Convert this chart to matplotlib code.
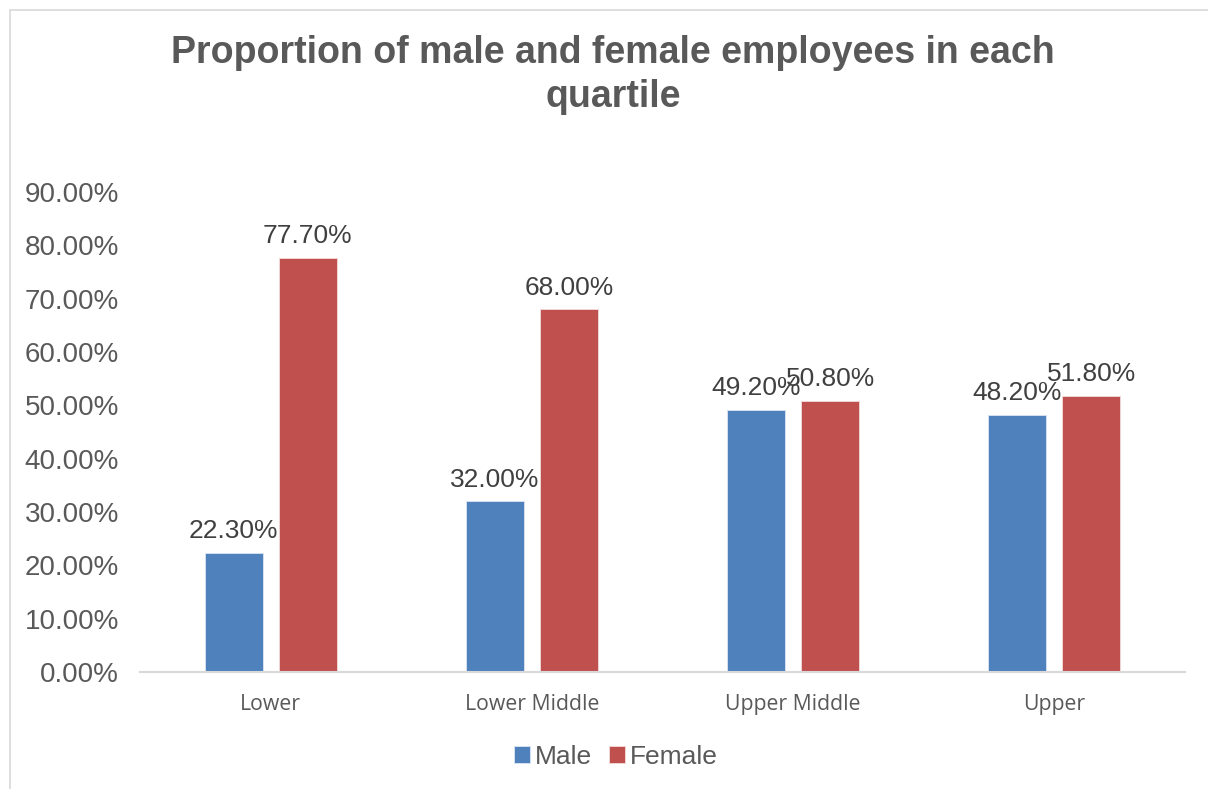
import numpy as np
import matplotlib.pyplot as plt
from matplotlib.patches import Rectangle
from matplotlib.ticker import FuncFormatter

categories = ["Lower", "Lower Middle", "Upper Middle", "Upper"]
male = [22.3, 32.0, 49.2, 48.2]
female = [77.7, 68.0, 50.8, 51.8]

BLUE = "#4F81BD"
RED = "#C0504D"
GRAY = "#595959"

W, H = 1208, 789
fig = plt.figure(figsize=(W / 100, H / 100), dpi=100)

# chart frame (cut off at right/bottom like the screenshot)
fig.patches.append(Rectangle((10 / W, -0.05), 1.1, 1 - 10 / H + 0.05,
                             transform=fig.transFigure, fill=False,
                             edgecolor="#D9D9D9", linewidth=1.2))

ax = fig.add_axes([140 / W, 1 - 672 / H, (1185 - 140) / W, (672 - 192) / H])

x = np.arange(len(categories))
bw = 0.222
off = 0.142
b1 = ax.bar(x - off, male, bw, color=BLUE, edgecolor="#DCE6F2", linewidth=0.6, label="Male")
b2 = ax.bar(x + off, female, bw, color=RED, edgecolor="#F2DCDB", linewidth=0.6, label="Female")

for bars, vals in [(b1, male), (b2, female)]:
    for b, v in zip(bars, vals):
        ax.annotate(f"{v:.2f}%", (b.get_x() + b.get_width() / 2, v),
                    xytext=(0, 7), textcoords="offset points",
                    ha="center", va="bottom", fontsize=19,
                    family="Liberation Sans", color="#404040")

ax.set_xlim(-0.5, 3.5)
ax.set_ylim(0, 90)
ax.set_yticks(np.arange(0, 91, 10))
ax.yaxis.set_major_formatter(FuncFormatter(lambda v, p: f"{v:.2f}%"))
ax.set_xticks(x)
ax.set_xticklabels(categories, family="Open Sans", fontsize=15.3, color=GRAY)
for t in ax.get_yticklabels():
    t.set_family("Liberation Sans")
    t.set_fontsize(20)
    t.set_color(GRAY)
ax.tick_params(axis="both", length=0)
ax.tick_params(axis="y", pad=15)
ax.tick_params(axis="x", pad=16)

for s in ["top", "right", "left"]:
    ax.spines[s].set_visible(False)
ax.spines["bottom"].set_color("#D9D9D9")
ax.spines["bottom"].set_linewidth(1.5)

fig.text(613 / W, 1 - 75 / H, "Proportion of male and female employees in each\nquartile",
         ha="center", va="center", fontsize=27, fontweight="bold",
         family="Liberation Sans", color=GRAY, linespacing=1.32)

fig.legend(handles=[b1, b2], labels=["Male", "Female"], loc="center",
           bbox_to_anchor=(616 / W, 1 - 757 / H), ncol=2, frameon=False,
           prop={"family": "Liberation Sans", "size": 19},
           handlelength=0.6, handleheight=0.6, handletextpad=0.2,
           columnspacing=0.65, labelcolor=GRAY)

fig.savefig("out.png", dpi=100)
